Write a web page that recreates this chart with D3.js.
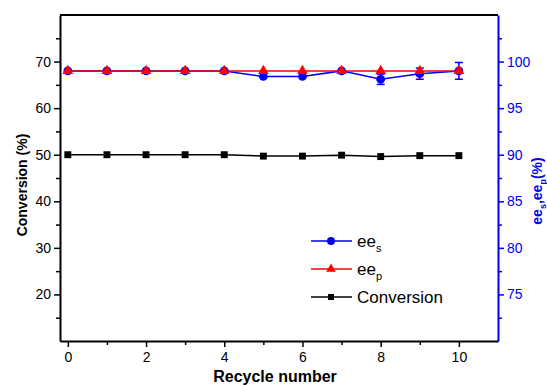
<!DOCTYPE html>
<html>
<head>
<meta charset="utf-8">
<script src="https://cdn.jsdelivr.net/npm/d3@7"></script>
<style>
  body { margin: 0; background: #fff; }
  text { font-family: "Liberation Sans", Arial, sans-serif; }
</style>
</head>
<body>
<div id="chart"></div>
<script>
// data
const cycles = [0, 1, 2, 3, 4, 5, 6, 7, 8, 9, 10]
const conversion = [50, 50, 50, 50, 50, 49.7, 49.7, 49.9, 49.6, 49.8, 49.8]
const eeS = [99, 99, 99, 99, 99, 98.4, 98.4, 99, 98.1, 98.7, 99]
const eeSErr = [0, 0, 0, 0, 0, 0, 0, 0, 0.55, 0.6, 0.9]
const eeP = [99, 99, 99, 99, 99, 99, 99, 99, 99, 99, 99]
const xTicks = [0, 2, 4, 6, 8, 10]
const leftTicks = [20, 30, 40, 50, 60, 70]
const rightTicks = [75, 80, 85, 90, 95, 100]

const W = 547, H = 387
const m = { left: 60, top: 15, right: 498, bottom: 341 }
const BLUE = '#0000ee', RED = '#ff0000'

const svg = d3.select('#chart').append('svg')
  .attr('width', W).attr('height', H)

const x = d3.scaleLinear().domain([-0.2, 11]).range([m.left, m.right])
const yL = d3.scaleLinear().domain([10, 80]).range([m.bottom, m.top])
const yR = d3.scaleLinear().domain([70, 105]).range([m.bottom, m.top])

// frame: top border
svg.append('line')
  .attr('x1', m.left).attr('x2', m.right).attr('y1', m.top).attr('y2', m.top)
  .attr('stroke', '#000').attr('stroke-width', 2)

function styleAxis(g, color) {
  g.select('.domain').attr('stroke', color).attr('stroke-width', 2)
  g.selectAll('.tick line').attr('stroke', color).attr('stroke-width', 1.5)
  g.selectAll('.tick text').attr('fill', color).style('font-size', '14px')
    .style('font-family', '"Liberation Sans", Arial, sans-serif')
}

// minor ticks first, then major axes
svg.append('g').attr('transform', `translate(0,${m.bottom})`)
  .call(d3.axisBottom(x).tickValues([1, 3, 5, 7, 9]).tickSize(4).tickFormat('').tickSizeOuter(0))
  .call(g => { g.select('.domain').remove(); g.selectAll('line').attr('stroke', '#000').attr('stroke-width', 1.5) })
svg.append('g').attr('transform', `translate(${m.left},0)`)
  .call(d3.axisLeft(yL).tickValues([15, 25, 35, 45, 55, 65, 75]).tickSize(4).tickFormat('').tickSizeOuter(0))
  .call(g => { g.select('.domain').remove(); g.selectAll('line').attr('stroke', '#000').attr('stroke-width', 1.5) })
svg.append('g').attr('transform', `translate(${m.right},0)`)
  .call(d3.axisRight(yR).tickValues([72.5, 77.5, 82.5, 87.5, 92.5, 97.5, 102.5]).tickSize(4).tickFormat('').tickSizeOuter(0))
  .call(g => { g.select('.domain').remove(); g.selectAll('line').attr('stroke', BLUE).attr('stroke-width', 1.5) })

svg.append('g').attr('transform', `translate(0,${m.bottom})`)
  .call(d3.axisBottom(x).tickValues(xTicks).tickSize(6).tickSizeOuter(0).tickPadding(5))
  .call(g => styleAxis(g, '#000'))
svg.append('g').attr('transform', `translate(${m.left},0)`)
  .call(d3.axisLeft(yL).tickValues(leftTicks).tickSize(6).tickSizeOuter(0).tickPadding(3))
  .call(g => styleAxis(g, '#000'))
svg.append('g').attr('transform', `translate(${m.right},0)`)
  .call(d3.axisRight(yR).tickValues(rightTicks).tickSize(6).tickSizeOuter(0).tickPadding(3))
  .call(g => styleAxis(g, BLUE))

// axis titles
svg.append('text')
  .attr('x', 275).attr('y', 382)
  .attr('text-anchor', 'middle').attr('font-weight', 'bold').attr('font-size', 16)
  .text('Recycle number')
svg.append('text')
  .attr('transform', `translate(27,185) rotate(-90)`)
  .attr('text-anchor', 'middle').attr('font-weight', 'bold').attr('font-size', 14)
  .text('Conversion (%)')
const rt = svg.append('text')
  .attr('transform', `translate(542,191) rotate(-90)`)
  .attr('text-anchor', 'middle').attr('font-weight', 'bold').attr('font-size', 14)
  .attr('fill', BLUE)
rt.append('tspan').text('ee')
rt.append('tspan').attr('font-size', 9).attr('dy', 4).text('s')
rt.append('tspan').attr('dy', -4).text(',ee')
rt.append('tspan').attr('font-size', 9).attr('dy', 4).text('p')
rt.append('tspan').attr('dy', -4).text('(%)')

// series
const line = (yScale, vals) => d3.line().x((d, i) => x(cycles[i])).y(d => yScale(d))(vals)

const series = [
  { vals: conversion, y: yL, color: '#000', shape: d3.symbolSquare, size: 48 },
  { vals: eeS, y: yR, color: BLUE, shape: d3.symbolCircle, size: 60 },
  { vals: eeP, y: yR, color: RED, shape: d3.symbolTriangle, size: 50 }
]

series.forEach(s => {
  svg.append('path').attr('d', line(s.y, s.vals))
    .attr('fill', 'none').attr('stroke', s.color).attr('stroke-width', 1.5)
})

// error bars on ee_s
const eb = svg.append('g').attr('stroke', BLUE).attr('stroke-width', 1.5)
eeS.forEach((v, i) => {
  if (!eeSErr[i]) return
  const cx = x(cycles[i]), y1 = yR(v - eeSErr[i]), y2 = yR(v + eeSErr[i])
  eb.append('line').attr('x1', cx).attr('x2', cx).attr('y1', y1).attr('y2', y2)
  eb.append('line').attr('x1', cx - 4).attr('x2', cx + 4).attr('y1', y1).attr('y2', y1)
  eb.append('line').attr('x1', cx - 4).attr('x2', cx + 4).attr('y1', y2).attr('y2', y2)
})

series.forEach(s => {
  svg.append('g').selectAll('path').data(s.vals).join('path')
    .attr('transform', (d, i) => `translate(${x(cycles[i])},${s.y(d)})`)
    .attr('d', d3.symbol(s.shape, s.size))
    .attr('fill', s.color)
})

// legend
const legend = [
  { name: 'ee', sub: 's', color: BLUE, shape: d3.symbolCircle, size: 50 },
  { name: 'ee', sub: 'p', color: RED, shape: d3.symbolTriangle, size: 40 },
  { name: 'Conversion', sub: '', color: '#000', shape: d3.symbolSquare, size: 36 }
]
legend.forEach((l, i) => {
  const ly = 241 + i * 28
  const g = svg.append('g')
  g.append('line').attr('x1', 311).attr('x2', 352).attr('y1', ly).attr('y2', ly)
    .attr('stroke', l.color).attr('stroke-width', 1.5)
  g.append('path').attr('transform', `translate(331,${ly})`)
    .attr('d', d3.symbol(l.shape, l.size)).attr('fill', l.color)
  const t = g.append('text').attr('x', 357).attr('y', ly + 6).attr('font-size', 17)
  t.append('tspan').text(l.name)
  if (l.sub) t.append('tspan').attr('font-size', 11).attr('dy', 5).text(l.sub)
})
</script>
</body>
</html>
